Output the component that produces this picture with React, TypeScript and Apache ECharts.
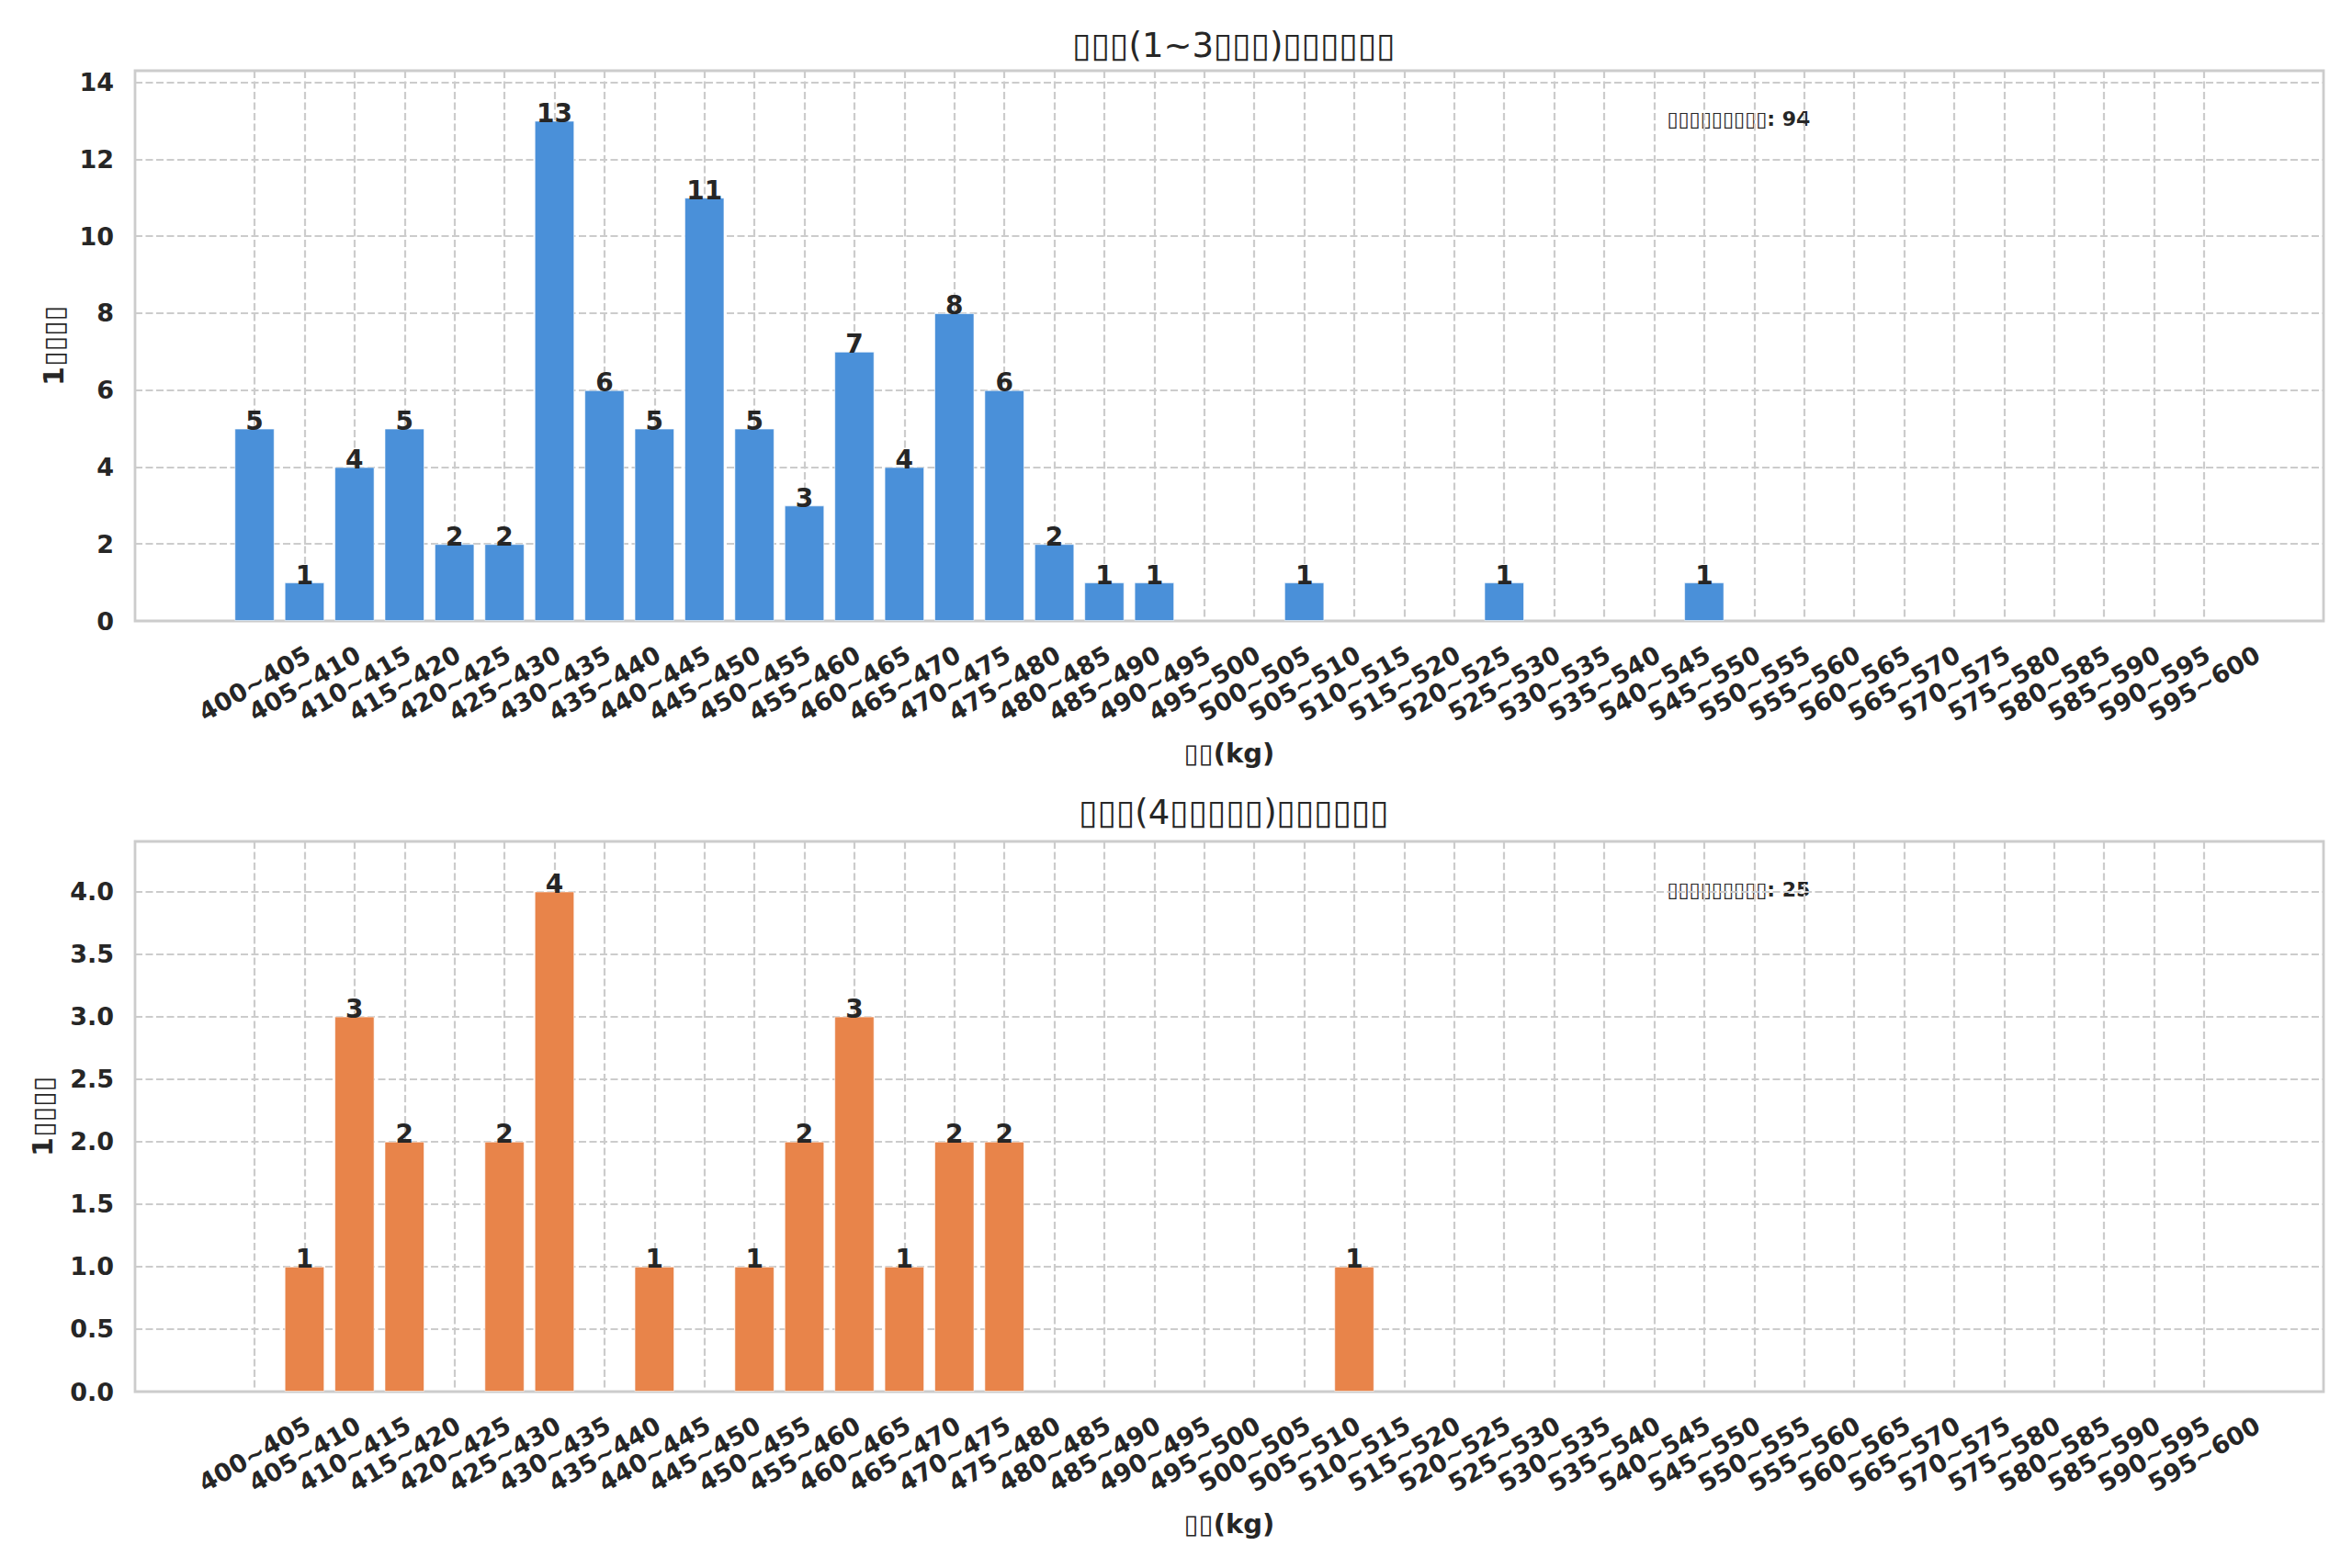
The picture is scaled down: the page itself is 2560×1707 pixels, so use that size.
import React, { useEffect, useRef } from 'react';
import * as echarts from 'echarts';

const categories = [
  '400~405', '405~410', '410~415', '415~420', '420~425', '425~430', '430~435', '435~440',
  '440~445', '445~450', '450~455', '455~460', '460~465', '465~470', '470~475', '475~480',
  '480~485', '485~490', '490~495', '495~500', '500~505', '505~510', '510~515', '515~520',
  '520~525', '525~530', '530~535', '535~540', '540~545', '545~550', '550~555', '555~560',
  '560~565', '565~570', '570~575', '575~580', '580~585', '585~590', '590~595', '595~600',
];

const countsGroup1 = [
  5, 1, 4, 5, 2, 2, 13, 6, 5, 11, 5, 3, 7, 4, 8, 6, 2, 1, 1, 0,
  0, 1, 0, 0, 0, 1, 0, 0, 0, 1, 0, 0, 0, 0, 0, 0, 0, 0, 0, 0,
];

const countsGroup2 = [
  0, 1, 3, 2, 0, 2, 4, 0, 1, 0, 1, 2, 3, 1, 2, 2, 0, 0, 0, 0,
  0, 0, 1, 0, 0, 0, 0, 0, 0, 0, 0, 0, 0, 0, 0, 0, 0, 0, 0, 0,
];

const yTicks1 = [0, 2, 4, 6, 8, 10, 12, 14];
const yTicks2 = [0, 0.5, 1, 1.5, 2, 2.5, 3, 3.5, 4];
const yMax1 = 14.3;
const yMax2 = 4.4;

const title1 = '▯▯▯(1~3▯▯▯)▯▯▯▯▯▯';
const title2 = '▯▯▯(4▯▯▯▯▯)▯▯▯▯▯▯';
const xName = '▯▯(kg)';
const yName = '1▯▯▯▯';
const noteLabel = '▯▯▯▯▯▯▯▯▯';

const colors = ['#4a90d9', '#e8844a'];
const TEXT = '#262626';
const GRIDC = '#cccccc';
const FONT = '"DejaVu Sans", sans-serif';

const W = 2560;
const H = 1707;
const GL = 147;
const GW = 2382;
const GH = 599;
const TOPS = [77, 916];
const TITLE_OFFSETS = [51, 55];
const X_MIN = -2.39;
const X_MAX = 41.39;

export default function App() {
  const ref = useRef<HTMLDivElement>(null);

  useEffect(() => {
    document.body.style.margin = '0';
    if (!ref.current) return;
    const chart = echarts.init(ref.current, undefined, { renderer: 'svg' });
    const idx = categories.map((_, i) => i);
    const barWidth = (0.8 * GW) / (X_MAX - X_MIN);
    const groups = [
      { counts: countsGroup1, ticks: yTicks1, max: yMax1, title: title1, fmt: (v: number) => String(v), nameGap: 74 },
      { counts: countsGroup2, ticks: yTicks2, max: yMax2, title: title2, fmt: (v: number) => v.toFixed(1), nameGap: 86 },
    ];
    const dashed = { color: GRIDC, width: 2.2, type: [8, 3.5] as any };

    const option: any = {
      animation: false,
      backgroundColor: '#ffffff',
      textStyle: { fontFamily: FONT },
      title: groups.map((g, i) => ({
        text: g.title,
        left: GL + GW / 2,
        textAlign: 'center',
        top: TOPS[i] - TITLE_OFFSETS[i],
        textStyle: { fontFamily: FONT, fontSize: 37, fontWeight: 'normal', color: TEXT },
      })),
      grid: groups.map((_, i) => ({
        left: GL,
        top: TOPS[i],
        width: GW,
        height: GH,
        show: true,
        borderColor: GRIDC,
        borderWidth: 2.8,
        backgroundColor: 'transparent',
        containLabel: false,
      })),
      xAxis: groups.map((_, i) => ({
        type: 'value',
        gridIndex: i,
        min: X_MIN,
        max: X_MAX,
        axisLine: { show: false },
        axisTick: { show: false, customValues: idx },
        axisLabel: {
          customValues: idx,
          formatter: (v: number) => categories[Math.round(v)] ?? '',
          rotate: 30,
          align: 'center',
          verticalAlign: 'middle',
          margin: 68,
          fontSize: 27,
          fontWeight: 'bold',
          color: TEXT,
          fontFamily: FONT,
        },
        splitLine: { show: true, lineStyle: dashed },
        name: xName,
        nameLocation: 'middle',
        nameGap: 129,
        nameTextStyle: { fontSize: 29, fontWeight: 'bold', color: TEXT, fontFamily: FONT },
      })),
      yAxis: groups.map((g, i) => ({
        type: 'value',
        gridIndex: i,
        min: 0,
        max: g.max,
        axisLine: { show: false },
        axisTick: { show: false, customValues: g.ticks },
        axisLabel: {
          customValues: g.ticks,
          formatter: g.fmt,
          margin: 23,
          fontSize: 27,
          fontWeight: 'bold',
          color: TEXT,
          fontFamily: FONT,
        },
        splitLine: { show: true, lineStyle: dashed },
        name: yName,
        nameLocation: 'middle',
        nameGap: g.nameGap,
        nameTextStyle: { fontSize: 30, fontWeight: 'bold', color: TEXT, fontFamily: FONT },
      })),
      series: groups.map((g, i) => ({
        type: 'bar',
        xAxisIndex: i,
        yAxisIndex: i,
        barWidth,
        data: g.counts.map((v, k) => [k, v]).filter((d) => d[1] > 0),
        itemStyle: { color: colors[i], borderColor: 'rgba(255,255,255,0.6)', borderWidth: 1 },
        label: {
          show: true,
          position: 'top',
          distance: -6,
          formatter: (p: any) => String(p.value[1]),
          fontSize: 28,
          fontWeight: 'bold',
          color: TEXT,
          fontFamily: FONT,
        },
      })),
      graphic: groups.map((g, i) => ({
        type: 'text',
        left: GL + 0.7 * GW,
        top: TOPS[i] + 41,
        style: {
          text: `${noteLabel}: ${g.counts.reduce((a, b) => a + b, 0)}`,
          fontSize: 22,
          fontWeight: 'bold',
          fontFamily: FONT,
          fill: TEXT,
        },
      })),
    };

    chart.setOption(option);
    return () => chart.dispose();
  }, []);

  return <div ref={ref} style={{ width: W, height: H }} />;
}
